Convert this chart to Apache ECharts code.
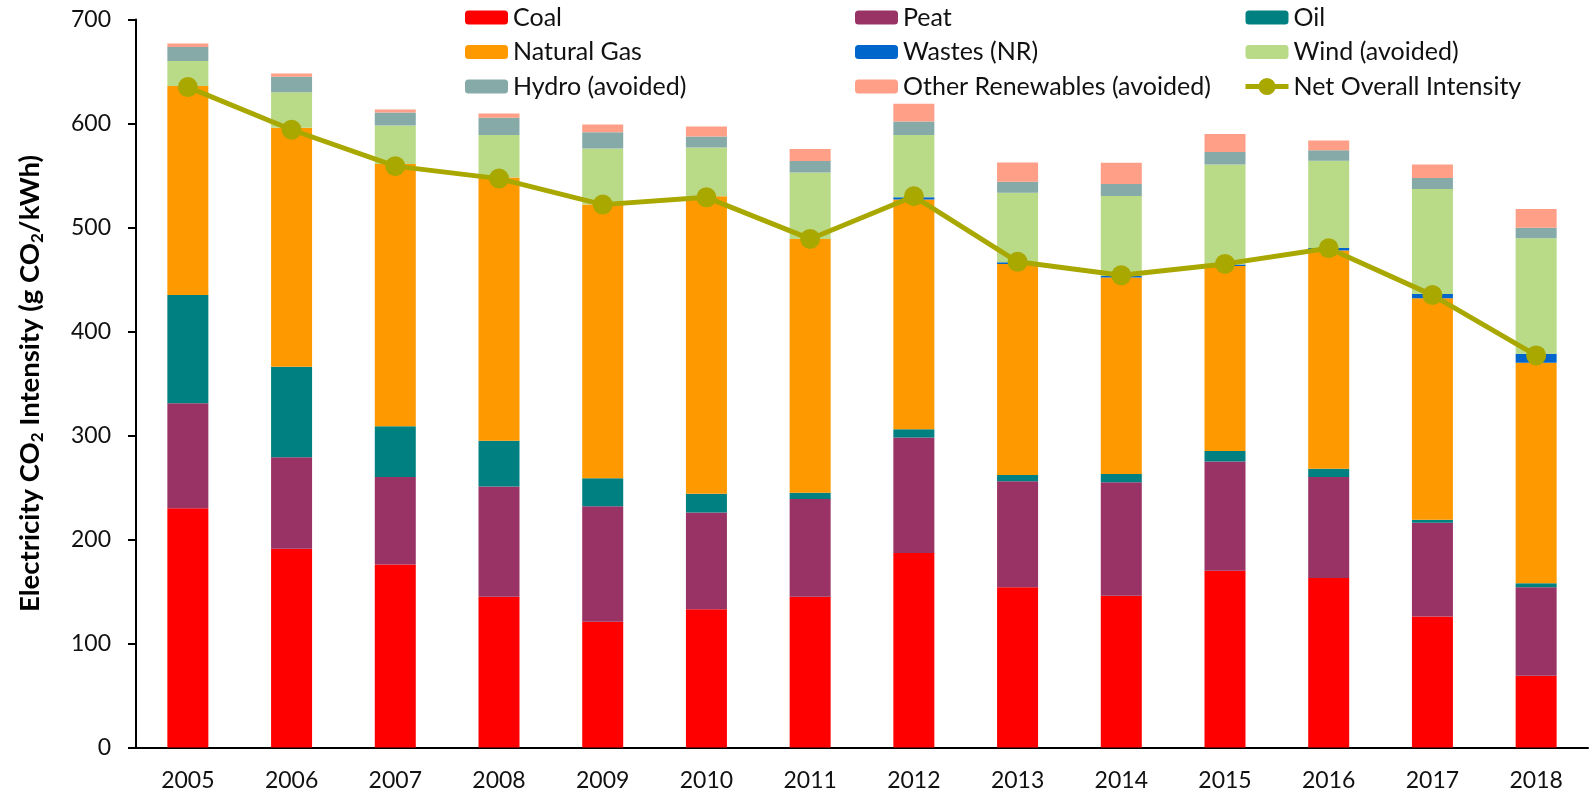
<!DOCTYPE html>
<html>
<head>
<meta charset="utf-8">
<script src="https://cdn.jsdelivr.net/npm/echarts@6/dist/echarts.min.js"></script>
<style>
  html, body { margin: 0; padding: 0; background: #fff; }
  #chart { width: 1591px; height: 795px; }
</style>
</head>
<body>
<div id="chart"></div>
<script>
const years = ['2005', '2006', '2007', '2008', '2009', '2010', '2011', '2012', '2013', '2014', '2015', '2016', '2017', '2018']

const coal = [230, 191, 176, 145, 121, 133, 145, 187, 154, 146, 170, 163, 126, 69]
const peat = [101, 88, 84, 106, 111, 93, 94, 111, 102, 109, 105, 97, 90, 85]
const oil = [104, 87, 49, 44, 27, 18, 6, 8, 6, 8, 10, 8, 3, 4]
const naturalGas = [201, 230, 252, 253, 263, 286, 244, 221, 203, 189, 178, 210, 213, 212]
const wastes = [0, 0, 0, 0, 0, 0, 0, 2, 1.5, 1.3, 1.5, 2.2, 4, 8.7]
const wind = [24, 34, 37, 41, 54, 47, 64, 60, 67, 77, 96, 84, 101, 111]
const hydro = [13.5, 15, 12.5, 16.5, 15.5, 10.5, 11, 13, 10.5, 11.5, 12, 10, 10.5, 10]
const otherRenewables = [3.5, 3, 3, 4, 7.5, 9.5, 11.5, 17, 18.5, 20.5, 17.5, 9.5, 13, 18]
const netIntensity = [635, 594, 559, 547, 522, 529, 489, 530, 467, 454, 465, 480, 435, 377]

const yTicks = { min: 0, max: 700, interval: 100 }

const font = 'Lato'
const olive = '#A9A800'
const chart = echarts.init(document.getElementById('chart'))

const barSeries = (name, data, color) => ({
  name,
  type: 'bar',
  stack: 'total',
  data,
  barWidth: 41,
  itemStyle: { color },
  emphasis: { disabled: true }
})

const legendBase = {
  orient: 'vertical',
  top: 0,
  itemWidth: 43,
  itemHeight: 14,
  itemGap: 9.5,
  textStyle: { fontFamily: font, fontSize: 25, color: '#111', lineHeight: 20 }
}

const option = {
  animation: false,
  textStyle: { fontFamily: font },
  grid: { left: 136, right: 3, top: 19.5, bottom: 47.5 },
  legend: [
    { ...legendBase, left: 460, data: ['Coal', 'Natural Gas', 'Hydro (avoided)'] },
    { ...legendBase, left: 850, data: ['Peat', 'Wastes (NR)', 'Other Renewables (avoided)'] },
    {
      ...legendBase,
      left: 1238,
      data: [
        'Oil',
        'Wind (avoided)',
        {
          name: 'Net Overall Intensity',
          lineStyle: { width: 5, color: olive },
          itemStyle: { color: olive, borderColor: olive, borderWidth: 6 }
        }
      ]
    }
  ],
  xAxis: {
    type: 'category',
    data: years,
    axisLine: { lineStyle: { color: '#000', width: 2 } },
    axisTick: { length: 8, lineStyle: { color: '#000', width: 2 } },
    axisLabel: { fontFamily: font, fontSize: 23, color: '#111', margin: 22 }
  },
  yAxis: {
    type: 'value',
    min: yTicks.min,
    max: yTicks.max,
    interval: yTicks.interval,
    splitLine: { show: false },
    axisLine: { show: true, lineStyle: { color: '#000', width: 2 } },
    axisTick: { show: true, length: 8, lineStyle: { color: '#000', width: 2 } },
    axisLabel: { fontFamily: font, fontSize: 23, color: '#111', margin: 25 },
    name: '{a|Electricity CO}{s|2}{a| Intensity (g CO}{s|2}{a|/kWh)}',
    nameLocation: 'middle',
    nameGap: 90,
    nameTextStyle: {
      rich: {
        a: { fontFamily: font, fontWeight: 'bold', fontSize: 27.5, color: '#000', lineHeight: 32 },
        s: { fontFamily: font, fontWeight: 'bold', fontSize: 17, color: '#000', lineHeight: 18, verticalAlign: 'bottom' }
      }
    }
  },
  series: [
    barSeries('Coal', coal, '#FF0000'),
    barSeries('Peat', peat, '#993366'),
    barSeries('Oil', oil, '#008080'),
    barSeries('Natural Gas', naturalGas, '#FF9900'),
    barSeries('Wastes (NR)', wastes, '#0066CC'),
    barSeries('Wind (avoided)', wind, '#B9DA87'),
    barSeries('Hydro (avoided)', hydro, '#85AAA8'),
    barSeries('Other Renewables (avoided)', otherRenewables, '#FF9F87'),
    {
      name: 'Net Overall Intensity',
      type: 'line',
      data: netIntensity,
      symbol: 'circle',
      symbolSize: 20,
      z: 10,
      lineStyle: { color: olive, width: 5 },
      itemStyle: { color: olive },
      emphasis: { disabled: true }
    }
  ]
}

chart.setOption(option)
window.addEventListener('resize', () => chart.resize())
</script>
</body>
</html>
